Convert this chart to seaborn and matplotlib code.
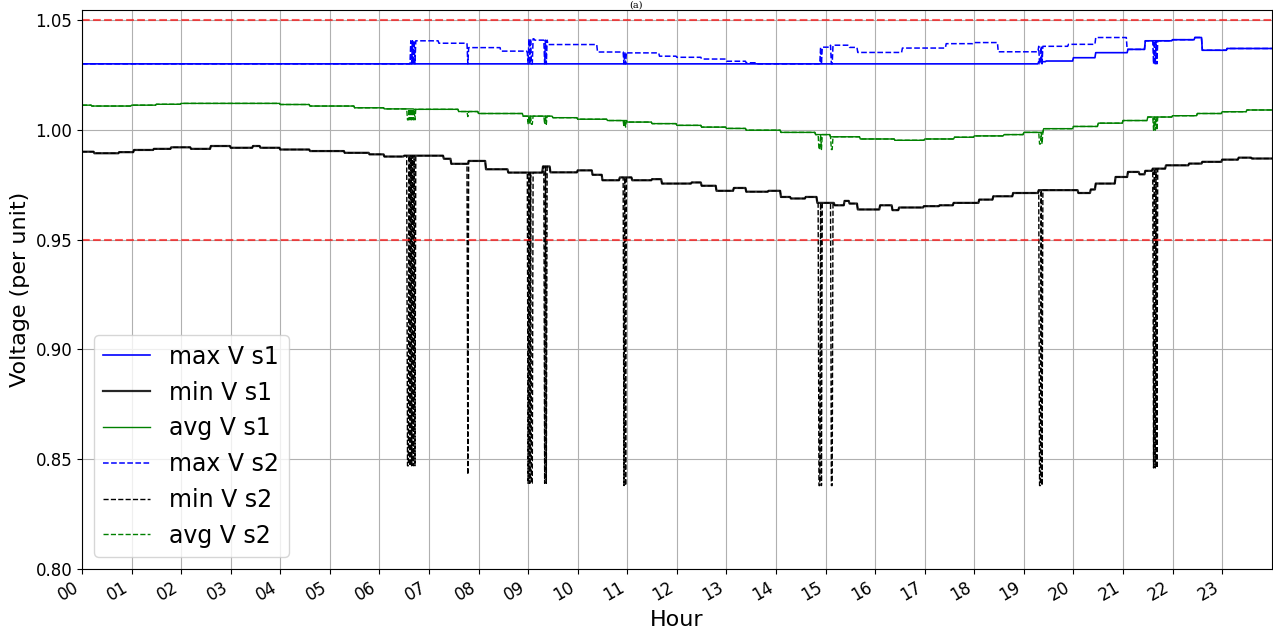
import numpy as np
import pandas as pd
import matplotlib
matplotlib.use("Agg")
import matplotlib.pyplot as plt
import seaborn as sns

# step series: value holds from each break hour until the next one
max_s1_hours = [0.0, 19.3, 19.45, 20.0, 20.45, 21.1, 21.45, 22.0, 22.45, 22.6, 23.1]
max_s1_vals = [1.0300, 1.0310, 1.0313, 1.0328, 1.0351, 1.0366, 1.0405, 1.0410, 1.0420, 1.0362, 1.0370]

max_s2_hours = [0.0, 6.62, 7.2, 7.8, 8.45, 8.97, 9.0, 9.12, 9.4, 10.4, 11.0, 11.65, 12.0, 12.5,
                13.0, 13.4, 13.6, 14.87, 15.1, 15.47, 15.64, 16.55, 17.43, 17.97, 18.47, 19.3,
                19.9, 20.45, 21.07, 21.45, 22.0, 22.45, 22.6, 23.1]
max_s2_vals = [1.0300, 1.0405, 1.0394, 1.0374, 1.0358, 1.0352, 1.0414, 1.0408, 1.0388, 1.0354, 1.0350,
               1.0335, 1.0330, 1.0322, 1.0312, 1.0305, 1.0300, 1.0376, 1.0385, 1.0375, 1.0352, 1.0372,
               1.0392, 1.0397, 1.0355, 1.0380, 1.0389, 1.0420, 1.0366, 1.0405, 1.0410, 1.0420,
               1.0362, 1.0370]

min_hours = [0.0, 0.25, 0.75, 1.05, 1.45, 1.8, 2.2, 2.6, 3.0, 3.45, 3.6, 4.0, 4.6, 5.3, 5.8, 6.1,
             6.5, 7.3, 7.45, 7.8, 8.15, 8.6, 9.3, 9.45, 10.0, 10.3, 10.5, 10.85, 11.1, 11.5, 11.7,
             12.3, 12.5, 12.8, 13.15, 13.4, 13.85, 14.1, 14.3, 14.6, 14.83, 15.17, 15.37, 15.47,
             15.64, 16.1, 16.34, 16.47, 16.97, 17.3, 17.57, 18.1, 18.38, 18.78, 19.3, 20.1, 20.35,
             20.45, 20.85, 21.1, 21.32, 21.45, 21.6, 21.86, 22.32, 22.6, 23.0, 23.33, 23.6]
min_vals = [0.9900, 0.9893, 0.9898, 0.9908, 0.9913, 0.9920, 0.9913, 0.9926, 0.9918, 0.9926, 0.9918,
            0.9910, 0.9903, 0.9895, 0.9888, 0.9878, 0.9882, 0.9868, 0.9845, 0.9858, 0.9820, 0.9805,
            0.9833, 0.9806, 0.9815, 0.9795, 0.9770, 0.9783, 0.9770, 0.9775, 0.9755, 0.9760, 0.9745,
            0.9722, 0.9735, 0.9718, 0.9722, 0.9694, 0.9687, 0.9694, 0.9667, 0.9656, 0.9676, 0.9664,
            0.9637, 0.9656, 0.9634, 0.9646, 0.9652, 0.9656, 0.9667, 0.9682, 0.9697, 0.9712, 0.9725,
            0.9712, 0.9728, 0.9755, 0.9785, 0.9808, 0.9797, 0.9813, 0.9823, 0.9838, 0.9846, 0.9854,
            0.9864, 0.9873, 0.9869]

avg_hours = [0.0, 0.2, 1.0, 1.5, 2.0, 4.0, 4.6, 5.5, 6.1, 6.7, 7.6, 8.0, 8.9, 9.5, 10.0, 10.6,
             11.0, 11.5, 12.0, 12.5, 13.0, 13.4, 14.1, 14.8, 15.1, 15.7, 16.4, 17.0, 17.6, 18.0,
             18.6, 19.0, 19.4, 20.0, 20.5, 21.0, 21.5, 22.0, 22.5, 23.0, 23.5]
avg_vals = [1.0112, 1.0108, 1.0112, 1.0116, 1.0120, 1.0115, 1.0108, 1.0100, 1.0095, 1.0093, 1.0083,
            1.0074, 1.0062, 1.0055, 1.0048, 1.0042, 1.0035, 1.0028, 1.0020, 1.0012, 1.0006, 0.9998,
            0.9988, 0.9978, 0.9968, 0.9958, 0.9952, 0.9958, 0.9966, 0.9972, 0.9978, 0.9988, 1.0005,
            1.0015, 1.0030, 1.0042, 1.0058, 1.0064, 1.0074, 1.0082, 1.0090]

# short dips of scenario 2 (one minute each)
dip_hours = [6.56, 6.59, 6.62, 6.65, 6.68, 6.71, 7.79, 9.00, 9.03, 9.06, 9.09, 9.34, 9.37,
             10.93, 10.96, 14.86, 14.89, 14.92, 15.11, 15.14, 19.31, 19.34, 19.37, 21.62, 21.65, 21.68]
dip_min = [0.847, 0.847, 0.847, 0.847, 0.847, 0.847, 0.843, 0.839, 0.839, 0.839, 0.839, 0.839, 0.839,
           0.838, 0.838, 0.838, 0.838, 0.838, 0.838, 0.838, 0.838, 0.838, 0.838, 0.846, 0.846, 0.846]
dip_avg = [1.0045, 1.0045, 1.0045, 1.0045, 1.0045, 1.0045, 1.0060, 1.0025, 1.0025, 1.0025, 1.0025,
           1.0025, 1.0025, 1.0012, 1.0012, 0.9910, 0.9910, 0.9910, 0.9910, 0.9910, 0.9935, 0.9935,
           0.9935, 0.9998, 0.9998, 0.9998]
dip_max = [1.030, 1.030, 1.030, 1.030, 1.030, 1.030, 1.030, 1.030, 1.030, 1.030, 1.030, 1.030, 1.030,
           1.030, 1.030, 1.030, 1.030, 1.030, 1.030, 1.030, 1.030, 1.030, 1.030, 1.030, 1.030, 1.030]

hour_labels = [f"{h:02d}" for h in range(24)]

t = np.arange(0, 24 * 60 + 1) / 60.0


def steps(hours, vals):
    idx = np.searchsorted(np.array(hours), t, side="right") - 1
    return np.array(vals)[idx]


df = pd.DataFrame({"hour": t})
df["max_s1"] = steps(max_s1_hours, max_s1_vals)
df["min_s1"] = steps(min_hours, min_vals)
df["avg_s1"] = steps(avg_hours, avg_vals)
df["max_s2"] = steps(max_s2_hours, max_s2_vals)
df["min_s2"] = steps(min_hours, min_vals)
df["avg_s2"] = steps(avg_hours, avg_vals)
dip_idx = np.round(np.array(dip_hours) * 60).astype(int)
df.loc[dip_idx, "min_s2"] = dip_min
df.loc[dip_idx, "avg_s2"] = dip_avg
df.loc[dip_idx, "max_s2"] = dip_max

fig, ax = plt.subplots(figsize=(12.73, 6.29), dpi=100)
fig.subplots_adjust(left=0.0644, right=0.999, top=0.984, bottom=0.0954)

sns.lineplot(data=df, x="hour", y="max_s1", ax=ax, color="blue", lw=1.2, label="max V s1", estimator=None)
sns.lineplot(data=df, x="hour", y="min_s1", ax=ax, color="black", lw=1.6, alpha=0.85, label="min V s1", estimator=None)
sns.lineplot(data=df, x="hour", y="avg_s1", ax=ax, color="green", lw=1.0, label="avg V s1", estimator=None)
sns.lineplot(data=df, x="hour", y="max_s2", ax=ax, color="blue", lw=1.1, ls="--", label="max V s2", estimator=None)
sns.lineplot(data=df, x="hour", y="min_s2", ax=ax, color="black", lw=1.0, ls="--", label="min V s2", estimator=None)
sns.lineplot(data=df, x="hour", y="avg_s2", ax=ax, color="green", lw=1.0, ls="--", label="avg V s2", estimator=None)

ax.axhline(1.05, color="red", ls="--", lw=1.5, alpha=0.65)
ax.axhline(0.95, color="red", ls="--", lw=1.5, alpha=0.65)

ax.set_xlim(0, 24)
ax.set_ylim(0.80, 1.0545)
ax.set_xticks(range(24))
ax.set_xticklabels(hour_labels, rotation=30, ha="right", fontsize=12)
ax.set_yticks([0.80, 0.85, 0.90, 0.95, 1.00, 1.05])
ax.set_yticklabels(["0.80", "0.85", "0.90", "0.95", "1.00", "1.05"], fontsize=12)
ax.grid(True)
ax.set_xlabel("Hour", fontsize=16, labelpad=4)
ax.set_ylabel("Voltage (per unit)", fontsize=16)
ax.legend(loc="lower left", fontsize=17)

fig.text(0.5, 0.999, "(a)", ha="center", va="top", family="serif", fontsize=7)

fig.savefig("out.png", dpi=100)
